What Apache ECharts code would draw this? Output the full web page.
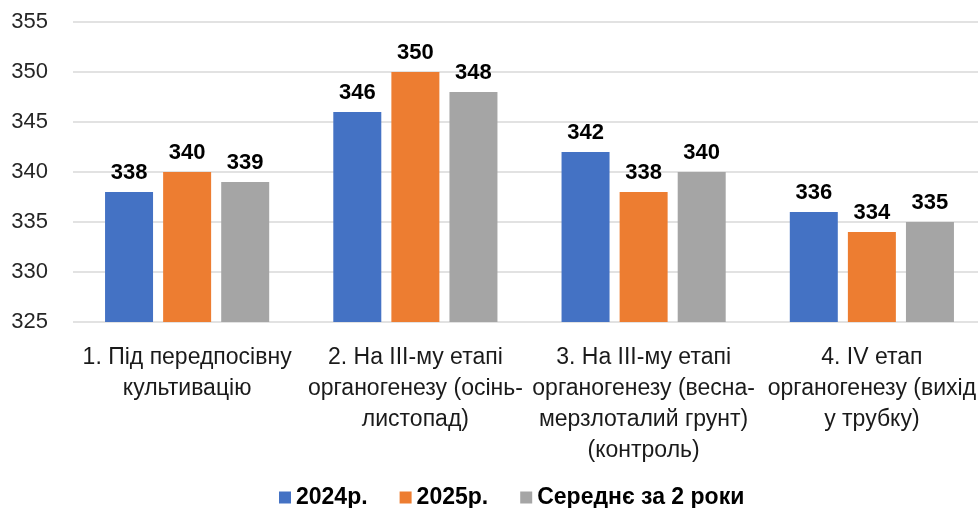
<!DOCTYPE html>
<html>
<head>
<meta charset="utf-8">
<script src="https://cdn.jsdelivr.net/npm/echarts@6/dist/echarts.min.js"></script>
<style>
  html, body { margin: 0; padding: 0; background: #fff; overflow: hidden; }
  /* a bit wider than the window: the plot runs past the right edge, as in the original */
  #chart { width: 990px; height: 508px; }
</style>
</head>
<body>
<div id="chart"></div>
<script>
// categories (line breaks as in the original)
const stages = [
  '1. Під передпосівну\nкультивацію',
  '2. На ІІІ-му етапі\nорганогенезу (осінь-\nлистопад)',
  '3. На ІІІ-му етапі\nорганогенезу (весна-\nмерзлоталий грунт)\n(контроль)',
  '4. ІV етап\nорганогенезу (вихід\nу трубку)'
];
const seriesNames = ['2024р.', '2025р.', 'Середнє за 2 роки'];
const values2024 = [338, 346, 342, 336];
const values2025 = [340, 350, 338, 334];
const valuesAvg = [339, 348, 340, 335];
const colors = ['#4472C4', '#ED7D31', '#A5A5A5'];

const font = '"Liberation Sans", Arial, sans-serif';

const chart = echarts.init(document.getElementById('chart'));

const makeSeries = (name, data, color) => ({
  name: name,
  type: 'bar',
  data: data,
  barWidth: 48,
  barGap: '21%',
  itemStyle: { color: color },
  label: {
    show: true,
    position: 'top',
    distance: 8,
    color: '#000',
    fontFamily: font,
    fontWeight: 'bold',
    fontSize: 22
  }
});

chart.setOption({
  animation: false,
  color: colors,
  grid: { left: 73, right: 4, top: 22, bottom: 186 },
  legend: {
    top: 486,
    left: 279,
    padding: 0,
    itemWidth: 12,
    itemHeight: 12,
    itemGap: 32,
    icon: 'rect',
    textStyle: { fontFamily: font, fontWeight: 'bold', fontSize: 23, color: '#000' },
    data: seriesNames
  },
  xAxis: {
    type: 'category',
    data: stages,
    axisLine: { show: false },
    axisTick: { show: false },
    axisLabel: {
      interval: 0,
      margin: 20,
      fontFamily: font,
      fontSize: 23,
      lineHeight: 31,
      color: '#1a1a1a'
    }
  },
  yAxis: {
    type: 'value',
    min: 325,
    max: 355,
    interval: 5,
    axisLine: { show: false },
    axisTick: { show: false },
    splitLine: { lineStyle: { color: '#D9D9D9', width: 1.5 } },
    axisLabel: {
      margin: 25,
      fontFamily: font,
      fontSize: 22,
      color: '#262626'
    }
  },
  series: [
    makeSeries(seriesNames[0], values2024, colors[0]),
    makeSeries(seriesNames[1], values2025, colors[1]),
    makeSeries(seriesNames[2], valuesAvg, colors[2])
  ]
});
</script>
</body>
</html>
